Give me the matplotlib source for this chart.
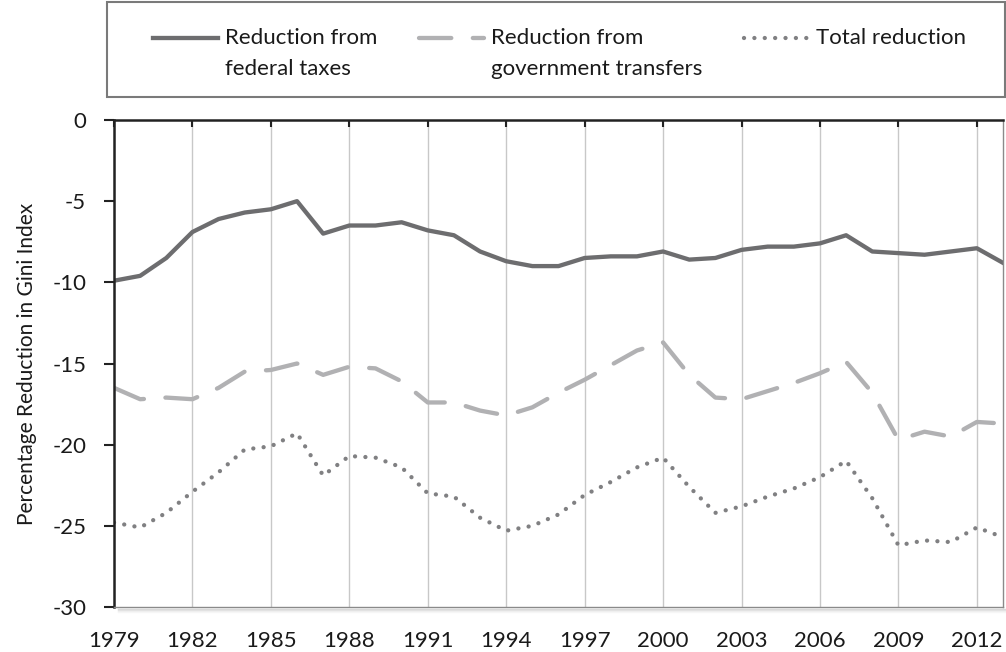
import matplotlib
matplotlib.use("Agg")
import matplotlib.pyplot as plt
from matplotlib.patches import Rectangle

plt.rcParams["font.family"] = ["Lato", "DejaVu Sans"]

years = list(range(1979, 2014))

federal_taxes = [
    -9.9, -9.6, -8.5, -6.9, -6.1, -5.7, -5.5, -5.0, -7.0, -6.5,
    -6.5, -6.3, -6.8, -7.1, -8.1, -8.7, -9.0, -9.0, -8.5, -8.4,
    -8.4, -8.1, -8.6, -8.5, -8.0, -7.8, -7.8, -7.6, -7.1, -8.1,
    -8.2, -8.3, -8.1, -7.9, -8.8,
]

gov_transfers = [
    -16.5, -17.2, -17.1, -17.2, -16.5, -15.5, -15.4, -15.0, -15.7, -15.2,
    -15.3, -16.1, -17.4, -17.4, -17.9, -18.2, -17.7, -16.8, -16.0, -15.1,
    -14.2, -13.7, -15.7, -17.1, -17.2, -16.7, -16.2, -15.6, -14.9, -16.8,
    -19.7, -19.2, -19.5, -18.6, -18.7,
]

total_reduction = [
    -24.8, -25.1, -24.2, -22.9, -21.7, -20.3, -20.1, -19.3, -21.9, -20.7,
    -20.8, -21.4, -23.0, -23.2, -24.5, -25.3, -25.0, -24.3, -23.1, -22.3,
    -21.4, -20.8, -22.6, -24.2, -23.8, -23.2, -22.7, -22.0, -21.0, -23.3,
    -26.2, -25.9, -26.0, -25.1, -25.7,
]

labels = [
    "Reduction from\nfederal taxes",
    "Reduction from\ngovernment transfers",
    "Total reduction",
]

x_ticks = list(range(1979, 2013, 3))
y_ticks = [0, -5, -10, -15, -20, -25, -30]

W, H = 1006, 652
fig = plt.figure(figsize=(W / 100, H / 100), dpi=100)
ax = fig.add_axes([114 / W, 1 - 607 / H, (1003 - 114) / W, (607 - 120) / H])

ax.plot(years, federal_taxes, color="#6d6d6f", lw=3.1, solid_joinstyle="round",
        label=labels[0])
ax.plot(years, gov_transfers, color="#b1b1b3", lw=3.1, linestyle=(0, (7.5, 5)),
        dash_capstyle="round", label=labels[1])
ax.plot(years, total_reduction, color="#808082", lw=3.1, linestyle=(0, (0.01, 2.4)),
        dash_capstyle="round", label=labels[2])

ax.set_xlim(1979, 2013)
ax.set_ylim(-30, 0)
ax.set_xticks(x_ticks)
ax.set_yticks(y_ticks)
ax.set_yticklabels([str(v) for v in y_ticks])
ax.grid(True, axis="x", color="#c8c8c8", lw=1.0)
ax.set_axisbelow(True)

ax.tick_params(axis="x", top=True, bottom=False, labeltop=False, labelbottom=True,
               direction="in", length=5, width=1.5, color="#222222",
               labelsize=16, pad=17, labelcolor="#1a1a1a")
ax.tick_params(axis="y", direction="out", length=7, width=1.5, color="#222222",
               labelsize=16, pad=13, labelcolor="#1a1a1a")

for side in ("left", "top"):
    ax.spines[side].set_color("#222222")
    ax.spines[side].set_linewidth(1.8)
for side in ("right", "bottom"):
    ax.spines[side].set_color("#8a8a8a")
    ax.spines[side].set_linewidth(1.0)

# soft shadow under the plot area
for i, a in enumerate([0.25, 0.15, 0.08, 0.04]):
    fig.add_artist(plt.Line2D([118 / W, 1005 / W], [1 - (609 + i) / H] * 2,
                              color="#777777", alpha=a, lw=1, transform=fig.transFigure))

ax.set_ylabel("Percentage Reduction in Gini Index", fontsize=15, color="#1a1a1a",
              labelpad=11)

fig.patches.append(Rectangle((107 / W, 1 - 97 / H), 898 / W, 95 / H,
                             transform=fig.transFigure, fill=False,
                             edgecolor="#7a7a7a", lw=1.5))
leg = fig.legend(loc="upper left", bbox_to_anchor=(142 / W, 1 - 17 / H), ncol=3,
                 frameon=False, fontsize=16, handlelength=2.9, handleheight=1.2,
                 handletextpad=0.32, columnspacing=1.9, borderpad=0,
                 labelcolor="#1a1a1a")
for t in leg.get_texts():
    t.set_linespacing(1.65)
# handles sit next to the first line of each label, as in the source chart
box = leg._legend_handle_box
box.align = "top"
for col in box.get_children():
    for item in col.get_children():
        item.align = "top"

fig.savefig("out.png", dpi=100)
